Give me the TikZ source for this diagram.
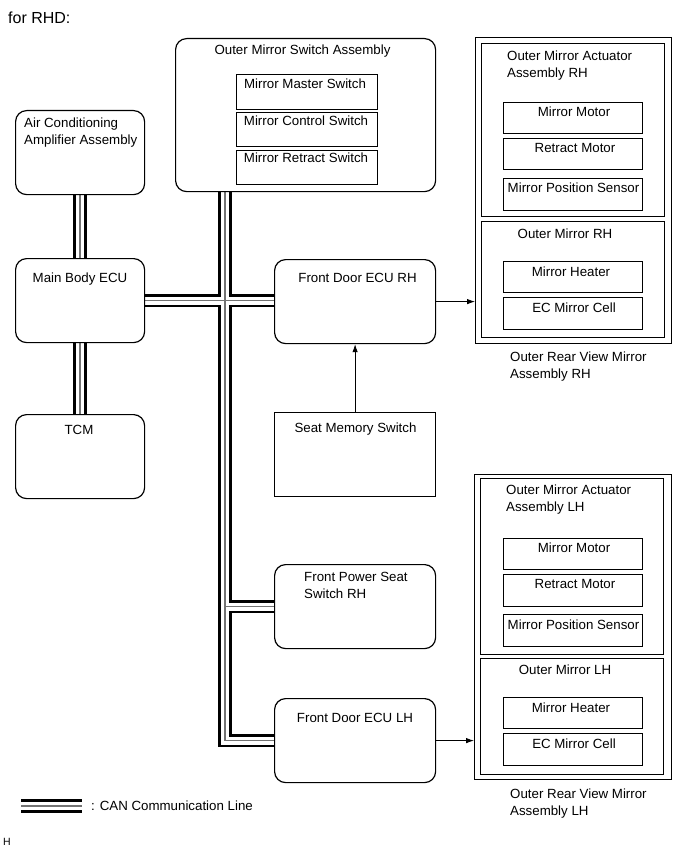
\documentclass[tikz,border=0pt]{standalone}
\usepackage{fontspec}
\setmainfont{Liberation Sans}
\usetikzlibrary{arrows.meta,backgrounds}
\newcommand\txtfont{\fontsize{13.3}{17}\selectfont}
\begin{document}
\begin{tikzpicture}[x=1pt,y=-1pt,
  rbox/.style={draw, line width=1.2pt, rounded corners=11pt, fill=white, anchor=north west, inner sep=0pt},
  sbox/.style={draw, line width=1.2pt, fill=white, anchor=north west, inner sep=0pt},
  fbox/.style={draw, line width=1.3pt, anchor=north west, inner sep=0pt},
  txt/.style={font=\txtfont, inner sep=0pt, align=left, anchor=north west},
  ctxt/.style={font=\txtfont, inner sep=0pt, align=center, anchor=north},
  canA/.style={line width=13.5pt, black},
  canB/.style={line width=8pt, white},
  canC/.style={line width=1.4pt, black!55},
  arr/.style={line width=0.8pt, -{Latex[length=8pt,width=5.5pt]}}
]
\useasboundingbox (0,0) rectangle (689,853);

% title
\node[inner sep=0pt, anchor=north west, font=\fontsize{16}{19}\selectfont] (title) at (8,12) {for RHD:};

% outer mirror switch assembly
\node[rbox, minimum width=260pt, minimum height=153pt] (oms) at (175,38) {};
\node[ctxt] (toms) at (302.5,45) {Outer Mirror Switch Assembly};
\node[sbox, minimum width=141pt, minimum height=35pt] (mms) at (236,74) {};
\node[sbox, minimum width=141pt, minimum height=34pt] (mcs) at (236,112) {};
\node[sbox, minimum width=141pt, minimum height=34pt] (mrs) at (236,150) {};
\node[ctxt] (tmms) at (305,79) {Mirror Master Switch};
\node[ctxt] (tmcs) at (306,116) {Mirror Control Switch};
\node[ctxt] (tmrs) at (306,153) {Mirror Retract Switch};

% left column
\node[rbox, minimum width=129pt, minimum height=84pt] (ac) at (15,110) {};
\node[txt] (tac) at (24,118) {Air Conditioning\\Amplifier Assembly};
\node[rbox, minimum width=129pt, minimum height=84pt] (mbe) at (15,258) {};
\node[ctxt] (tmbe) at (80,273) {Main Body ECU};
\node[rbox, minimum width=129pt, minimum height=84pt] (tcm) at (15,414) {};
\node[ctxt] (ttcm) at (79,425) {TCM};

% middle column
\node[rbox, minimum width=161pt, minimum height=84pt] (fdrh) at (274,259) {};
\node[ctxt] (tfdrh) at (357.5,273) {Front Door ECU RH};
\node[sbox, minimum width=161pt, minimum height=84pt] (sms) at (274,412) {};
\node[ctxt] (tsms) at (355.5,423) {Seat Memory Switch};
\node[rbox, minimum width=161pt, minimum height=84pt] (fps) at (274,564) {};
\node[txt] (tfps) at (304,572) {Front Power Seat\\Switch RH};
\node[rbox, minimum width=161pt, minimum height=84pt] (fdlh) at (274,698) {};
\node[ctxt] (tfdlh) at (355,713) {Front Door ECU LH};

% RH mirror assembly
\node[fbox, minimum width=196pt, minimum height=306pt] (rho) at (475,37) {};
\node[fbox, minimum width=183pt, minimum height=173pt] (rha) at (480.5,43) {};
\node[fbox, minimum width=183pt, minimum height=116pt] (rhm) at (480.5,221) {};
\node[txt] (trha) at (507,50.5) {Outer Mirror Actuator\\Assembly RH};
\node[sbox, minimum width=139pt, minimum height=31pt] (rhmm) at (503,102) {};
\node[sbox, minimum width=139pt, minimum height=31pt] (rhrm) at (503,138) {};
\node[sbox, minimum width=139pt, minimum height=32pt] (rhps) at (503,178) {};
\node[ctxt] (trhmm) at (574,107) {Mirror Motor};
\node[ctxt] (trhrm) at (575,143) {Retract Motor};
\node[ctxt] (trhps) at (573.5,183) {Mirror Position Sensor};
\node[ctxt] (trhm) at (565,229) {Outer Mirror RH};
\node[sbox, minimum width=139pt, minimum height=31pt] (rhmh) at (503,261) {};
\node[sbox, minimum width=139pt, minimum height=32pt] (rhec) at (503,297) {};
\node[ctxt] (trhmh) at (571,267) {Mirror Heater};
\node[ctxt] (trhec) at (574,303) {EC Mirror Cell};
\node[txt] (trho) at (510,352) {Outer Rear View Mirror\\Assembly RH};

% LH mirror assembly
\node[fbox, minimum width=197pt, minimum height=305pt] (lho) at (474,474) {};
\node[fbox, minimum width=183pt, minimum height=176pt] (lha) at (480,477.5) {};
\node[fbox, minimum width=183pt, minimum height=116pt] (lhm) at (480,658) {};
\node[txt] (tlha) at (506,485) {Outer Mirror Actuator\\Assembly LH};
\node[sbox, minimum width=139pt, minimum height=31pt] (lhmm) at (503,538) {};
\node[sbox, minimum width=139pt, minimum height=32pt] (lhrm) at (503,574) {};
\node[sbox, minimum width=139pt, minimum height=32pt] (lhps) at (503,614) {};
\node[ctxt] (tlhmm) at (574,543) {Mirror Motor};
\node[ctxt] (tlhrm) at (575,579) {Retract Motor};
\node[ctxt] (tlhps) at (573.5,620) {Mirror Position Sensor};
\node[ctxt] (tlhm) at (565,665) {Outer Mirror LH};
\node[sbox, minimum width=139pt, minimum height=31pt] (lhmh) at (503,697) {};
\node[sbox, minimum width=139pt, minimum height=32pt] (lhec) at (503,733) {};
\node[ctxt] (tlhmh) at (571,703) {Mirror Heater};
\node[ctxt] (tlhec) at (574,739) {EC Mirror Cell};
\node[txt] (tlho) at (510,789) {Outer Rear View Mirror\\Assembly LH};

% legend and footer
\coordinate (lg1) at (21,806);
\coordinate (lg2) at (82,806);
\node[font=\txtfont, inner sep=0pt, anchor=west] (tleg) at (91,806) {: CAN Communication Line};
\node[font=\fontsize{10.5}{12}\selectfont, inner sep=0pt, anchor=north west] (foot) at (3,838) {H};

% CAN lines
\coordinate (tk) at (225,191);
\newcommand\canroutes[1]{%
  \draw[#1] (ac.south) -- (mbe.north);
  \draw[#1] (mbe.south) -- (tcm.north);
  \draw[#1] (mbe.east) -- (mbe.east -| fdrh.west);
  \draw[#1] (tk) -- (tk |- fdlh.west) -- (fdlh.west);
  \draw[#1] (tk |- fps.west) -- (fps.west);
  \draw[#1] (lg1) -- (lg2);
}
\begin{pgfonlayer}{background}
  \canroutes{canA}
  \canroutes{canB}
  \canroutes{canC}
\end{pgfonlayer}

% signal arrows
\draw[arr] (sms.north) -- (fdrh.south);
\draw[arr] (fdrh.east) -- (fdrh.east -| rho.west);
\draw[arr] (fdlh.east) -- (fdlh.east -| lho.west);
\end{tikzpicture}
\end{document}
